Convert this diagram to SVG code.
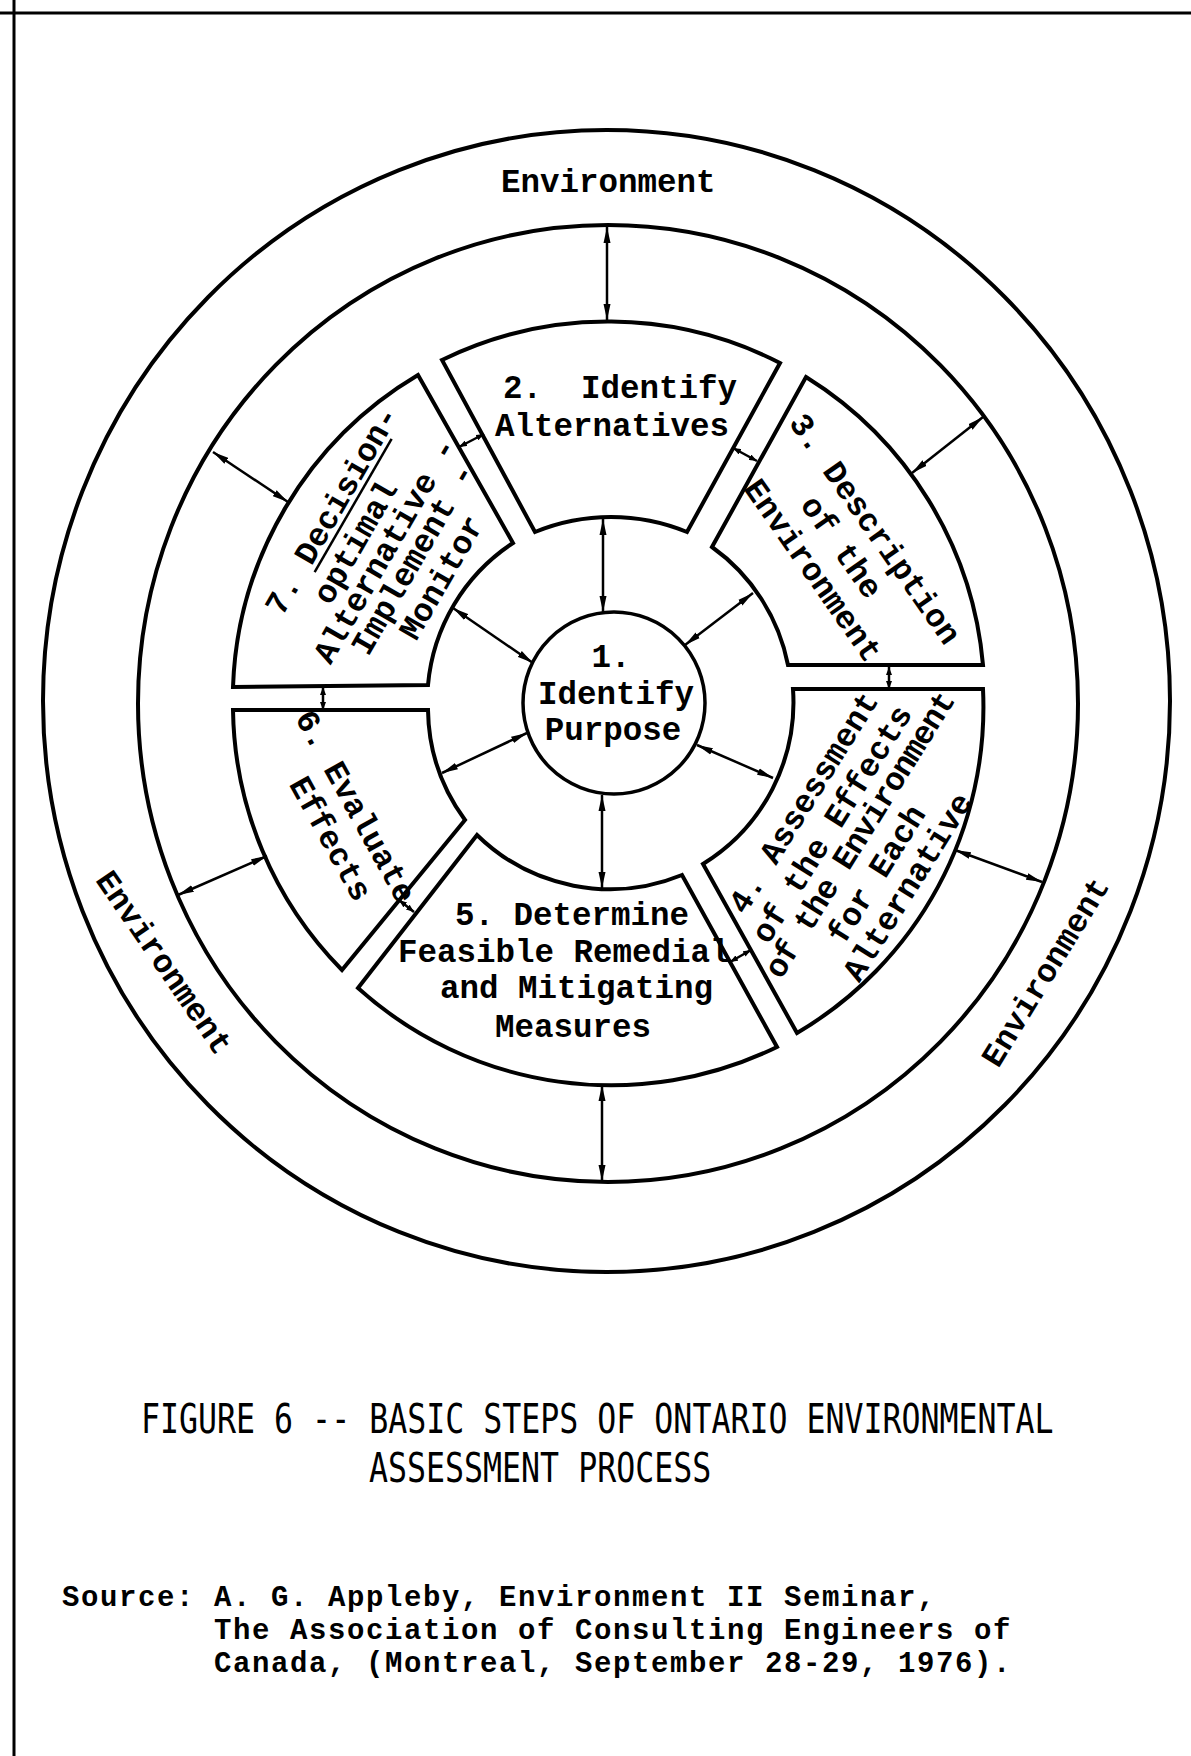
<svg xmlns="http://www.w3.org/2000/svg" width="1191" height="1756" viewBox="0 0 1191 1756">
<style>
.frame{fill:none;stroke:#000;stroke-width:3}
.ring{fill:none;stroke:#000;stroke-width:4}
.seg{fill:#fff;stroke:#000;stroke-width:4;stroke-linejoin:miter}
.ar{stroke:#000;stroke-width:2.5;fill:none;marker-start:url(#ah);marker-end:url(#ah)}
.ars{stroke:#000;stroke-width:2.5;fill:none;marker-start:url(#ahs);marker-end:url(#ahs)}
.t{font-family:"Liberation Mono","Courier New",monospace;font-size:32.5px;font-weight:bold;fill:#000;white-space:pre}
.c{text-anchor:middle;dominant-baseline:central}
.cap{font-family:"DejaVu Sans Mono","Liberation Mono",monospace;font-size:31.6px;fill:#000;white-space:pre}
.src{font-family:"Liberation Mono","Courier New",monospace;font-size:29px;letter-spacing:1.6px;font-weight:bold;fill:#000;white-space:pre}
</style>
<defs>
<marker id="ah" viewBox="0 0 16 8" refX="16" refY="4" markerWidth="16" markerHeight="8" markerUnits="userSpaceOnUse" orient="auto-start-reverse"><path d="M0,0.5 L16,4 L0,7.5 z" fill="#000"/></marker>
<marker id="ahs" viewBox="0 0 8 6" refX="8" refY="3" markerWidth="8" markerHeight="6" markerUnits="userSpaceOnUse" orient="auto-start-reverse"><path d="M0,0 L8,3 L0,6 z" fill="#000"/></marker>
</defs>
<rect width="1191" height="1756" fill="#fff"/>
<g id="frame">
<line class="frame" x1="0" y1="13" x2="1191" y2="13"/>
<line class="frame" x1="14" y1="0" x2="14" y2="1756"/>
</g>
<g id="environment">
<ellipse class="ring" cx="606.5" cy="701" rx="563.5" ry="571"/>
<ellipse class="ring" cx="608" cy="703.5" rx="470" ry="478.5"/>
<text class="t" x="501" y="192">Environment</text>
<text class="t c" transform="translate(162.5 963.5) rotate(55.5)">Environment</text>
<text class="t c" transform="translate(1047 973) rotate(-58.5)">Environment</text>
</g>
<g id="step2">
<path class="seg" d="M442,360 A378,378 0 0 1 780,363 L687,532 A200,200 0 0 0 535,532 Z"/>
<text class="t" x="503" y="398">2.  Identify</text>
<text class="t" x="495" y="436">Alternatives</text>
</g>
<g id="step3">
<path class="seg" d="M806,377 A378,378 0 0 1 983,665 L788,665 A190,190 0 0 0 712,547 Z"/>
<text class="t c" transform="translate(873.5 530) rotate(55)">3. Description</text>
<text class="t c" transform="translate(840 548) rotate(55)">of the</text>
<text class="t c" transform="translate(811.5 571.5) rotate(55)">Environment</text>
</g>
<g id="step4">
<path class="seg" d="M793,689 L983,689 A378,378 0 0 1 797,1033 L703,864 A190,190 0 0 0 793,689 Z"/>
<text class="t c" transform="translate(805 803.5) rotate(-58)">4. Assessment</text>
<text class="t c" transform="translate(833.5 825) rotate(-58)">of the Effects</text>
<text class="t c" transform="translate(861 836) rotate(-58)" style="letter-spacing:-1.2px">of the Environment</text>
<text class="t c" transform="translate(878 875) rotate(-58)">for Each</text>
<text class="t c" transform="translate(909 888) rotate(-58)">Alternative</text>
</g>
<g id="step5">
<path class="seg" d="M477,835 A190,190 0 0 0 682,875 L777,1047 A378,378 0 0 1 358,988 Z"/>
<text class="t" x="455" y="925">5. Determine</text>
<text class="t" x="398" y="962">Feasible Remedial</text>
<text class="t" x="440" y="998">and Mitigating</text>
<text class="t" x="495" y="1037">Measures</text>
</g>
<g id="step6">
<path class="seg" d="M233,710 L428,710 A190,190 0 0 0 465,820 L342,970 A378,378 0 0 1 233,710 Z"/>
<text class="t c" transform="translate(354 807.5) rotate(61)">6. Evaluate</text>
<text class="t c" transform="translate(329 839.5) rotate(61)">Effects</text>
</g>
<g id="step7">
<path class="seg" d="M233,687 A378,378 0 0 1 418,375 L513,543 A190,190 0 0 0 428,685 Z"/>
<g transform="translate(333.5 511.5) rotate(-60)">
<text class="t c" x="0" y="0">7. Decision-</text>
<line x1="-62" y1="14" x2="92" y2="14" stroke="#000" stroke-width="2.5"/>
</g>
<text class="t c" transform="translate(357 543) rotate(-60)">optimal</text>
<text class="t c" transform="translate(386.5 551.5) rotate(-60)">Alternative -</text>
<text class="t c" transform="translate(414.5 560) rotate(-60)">Implement -</text>
<text class="t c" transform="translate(443 578.5) rotate(-60)">Monitor</text>
</g>
<g id="step1">
<circle cx="614" cy="703" r="91" fill="#fff" stroke="#000" stroke-width="3.5"/>
<text class="t" x="611" y="667" text-anchor="middle">1.</text>
<text class="t" x="616" y="704" text-anchor="middle">Identify</text>
<text class="t" x="613" y="740" text-anchor="middle">Purpose</text>
</g>
<g id="connectors">
<line class="ar" x1="607" y1="227" x2="607" y2="320"/>
<line class="ar" x1="603" y1="519" x2="603" y2="612"/>
<line class="ar" x1="602" y1="795" x2="602" y2="888"/>
<line class="ar" x1="602" y1="1085" x2="602" y2="1181"/>
<line class="ar" x1="453" y1="608" x2="533" y2="663"/>
<line class="ar" x1="753" y1="593" x2="685" y2="645"/>
<line class="ar" x1="527" y1="733" x2="442" y2="773"/>
<line class="ar" x1="697" y1="745" x2="773" y2="778"/>
<line class="ar" x1="213" y1="452" x2="288" y2="502"/>
<line class="ar" x1="983" y1="417" x2="912" y2="473"/>
<line class="ar" x1="178" y1="895" x2="267" y2="856"/>
<line class="ar" x1="955" y1="850" x2="1042" y2="882"/>
<line class="ars" x1="459" y1="447" x2="484" y2="434"/>
<line class="ars" x1="733" y1="448" x2="757" y2="461"/>
<line class="ars" x1="889" y1="667" x2="889" y2="689"/>
<line class="ars" x1="730" y1="962" x2="751" y2="950"/>
<line class="ars" x1="399" y1="900" x2="414" y2="912"/>
<line class="ars" x1="323" y1="687" x2="323" y2="710"/>
</g>
<g id="caption">
<text class="cap" transform="translate(141 1433) scale(1 1.3)">FIGURE 6 -- BASIC STEPS OF ONTARIO ENVIRONMENTAL</text>
<text class="cap" transform="translate(369 1482) scale(1 1.3)">ASSESSMENT PROCESS</text>
</g>
<g id="source">
<text class="src" x="62" y="1606">Source: A. G. Appleby, Environment II Seminar,</text>
<text class="src" x="214" y="1639">The Association of Consulting Engineers of</text>
<text class="src" x="214" y="1672">Canada, (Montreal, September 28-29, 1976).</text>
</g>
</svg>
